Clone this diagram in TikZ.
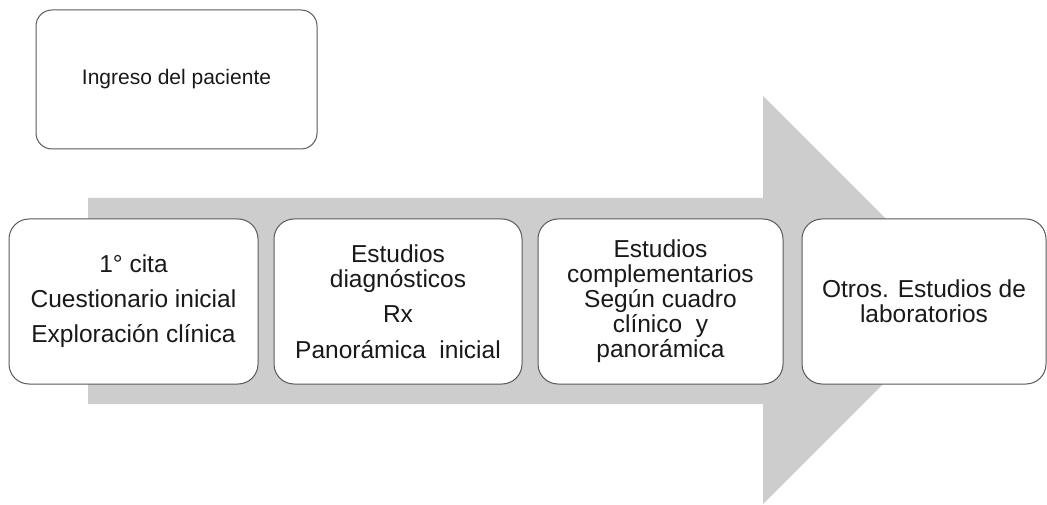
\documentclass[tikz,border=0pt]{standalone}
\usepackage{fontspec}
\setmainfont{Liberation Sans}
\definecolor{arrowgray}{RGB}{205,205,205}
\definecolor{boxline}{RGB}{90,90,90}
\definecolor{textcol}{RGB}{25,25,25}
\tikzset{
  stepbox/.style={draw=boxline, fill=white, line width=1pt, rounded corners=20pt,
    minimum height=165pt, inner sep=0pt, align=center, text=textcol,
    font=\fontsize{24.5}{25}\selectfont},
  topbox/.style={draw=boxline, fill=white, line width=1pt, rounded corners=16pt,
    minimum width=281pt, minimum height=139pt, inner sep=0pt, align=center, text=textcol,
    font=\fontsize{21}{24}\selectfont},
  bigarrow/.style={fill=arrowgray, draw=none}
}
\begin{document}
\begin{tikzpicture}[x=1pt,y=-1pt]
\useasboundingbox (0,0) rectangle (1047,505);
\fill[bigarrow] (88,198) -- (763,198) -- (763,96) -- (967,300) -- (763,504) -- (763,404) -- (88,404) -- cycle;
\node[topbox] (top) at (176.5,79.5) {Ingreso del paciente};
\node[stepbox, minimum width=249pt] (b1) at (133.5,301.5)
  {1° cita\\[10pt]Cuestionario inicial\\[10pt]Exploración clínica};
\node[stepbox, minimum width=248pt] (b2) at (398,301.5)
  {Estudios\\diagnósticos\\[10pt]Rx\\[11pt]Panorámica\ \ inicial};
\node[stepbox, minimum width=245pt] (b3) at (660.5,301.5)
  {Estudios\\complementarios\\Según cuadro\\clínico\ \ y\\panorámica};
\node[stepbox, minimum width=244pt] (b4) at (924,301.5)
  {Otros. Estudios de\\laboratorios};
\end{tikzpicture}
\end{document}
